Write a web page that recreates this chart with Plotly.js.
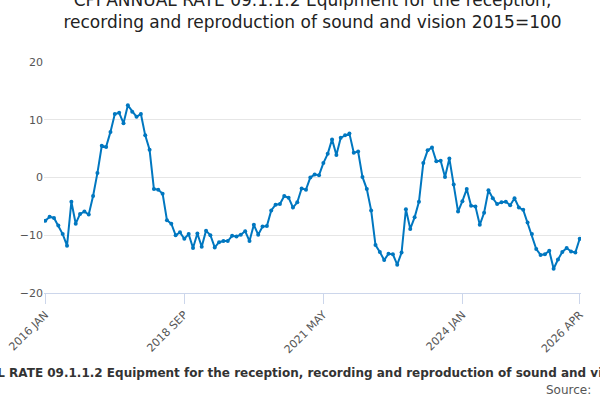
<!DOCTYPE html><html><head><script src="https://cdn.plot.ly/plotly-3.0.1.min.js"></script>
<style>body{margin:0}</style></head><body><div id="c" style="width:600px;height:400px"></div><script>
const values=[-7.5,-6.8,-7,-8.3,-9.8,-11.8,-4.2,-8,-6.3,-5.9,-6.4,-3.2,
0.8,5.5,5.3,7.9,11,11.2,9.4,12.5,11.4,10.5,11,7.3,
4.8,-2,-2.1,-2.8,-7.4,-8,-10,-9.5,-10.6,-9.8,-12.2,-9.7,
-12,-9.2,-10,-12.1,-11.2,-11,-11,-10.1,-10.2,-9.9,-9.3,-11,
-8.2,-9.9,-8.5,-8.4,-5.7,-4.7,-4.6,-3.2,-3.5,-5.2,-4.3,-1.9,
-2.1,0,0.5,0.4,2.5,4.1,6.6,3.9,6.9,7.3,7.6,4.3,
4.5,0.1,-2,-5.7,-11.7,-12.9,-14.3,-13.2,-13.3,-15.1,-13,-5.5,
-8.9,-6.9,-4.2,2.5,4.7,5.2,2.8,2.9,0.1,3.3,-1.2,-5.9,
-4.1,-2,-4.9,-5,-8.2,-6.1,-2.2,-3.6,-4.6,-4.3,-4.2,-4.8,
-3.6,-5.2,-5.6,-7.8,-9.8,-12.4,-13.4,-13.3,-12.7,-15.8,-14.2,-12.9,
-12.2,-12.8,-13,-10.6];
const MON=["JAN","FEB","MAR","APR","MAY","JUN","JUL","AUG","SEP","OCT","NOV","DEC"];
const months=values.map((v,i)=>(2016+Math.floor(i/12))+" "+MON[i%12]);
const tickLabels=["2016 JAN","2018 SEP","2021 MAY","2024 JAN","2026 APR"];
const full="CPI ANNUAL RATE 09.1.1.2 Equipment for the reception, recording and reproduction of sound and vision 2015=100";
Plotly.newPlot('c',[{x:months,y:values,type:'scatter',mode:'lines+markers',line:{color:'#0077c0',width:2},marker:{size:4,color:'#0077c0'}}],{
width:600,height:400,margin:{l:44,r:19,t:62,b:107},paper_bgcolor:'#fff',plot_bgcolor:'#fff',
font:{family:'"DejaVu Sans", sans-serif',color:'#555'},
title:{text:"CPI ANNUAL RATE 09.1.1.2 Equipment for the reception,<br>recording and reproduction of sound and vision 2015=100",font:{size:17,color:'#222'},x:0.5,xref:'paper',yref:'container',y:0.985,yanchor:'top'},
xaxis:{type:'category',tickmode:'array',tickvals:tickLabels,ticktext:tickLabels,tickangle:-45,tickfont:{size:11},showgrid:false,showline:true,linecolor:'#ccd6eb',ticks:'outside',tickcolor:'#ccd6eb',ticklen:10,range:[-0.3,123.3]},
yaxis:{range:[-20,20],dtick:10,gridcolor:'#e6e6e6',zeroline:false,tickfont:{size:11},ticklen:0},
showlegend:false,
annotations:[{text:"<b>"+full+"</b>",xref:'paper',yref:'paper',x:0.5,y:-0.385,xanchor:'center',showarrow:false,font:{size:12,color:'#333'}},
{text:"Source: ",xref:'paper',x:1.03,xanchor:'right',yref:'paper',y:-0.46,showarrow:false,font:{size:12,color:'#555'}}]
},{displayModeBar:false});
</script></body></html>
